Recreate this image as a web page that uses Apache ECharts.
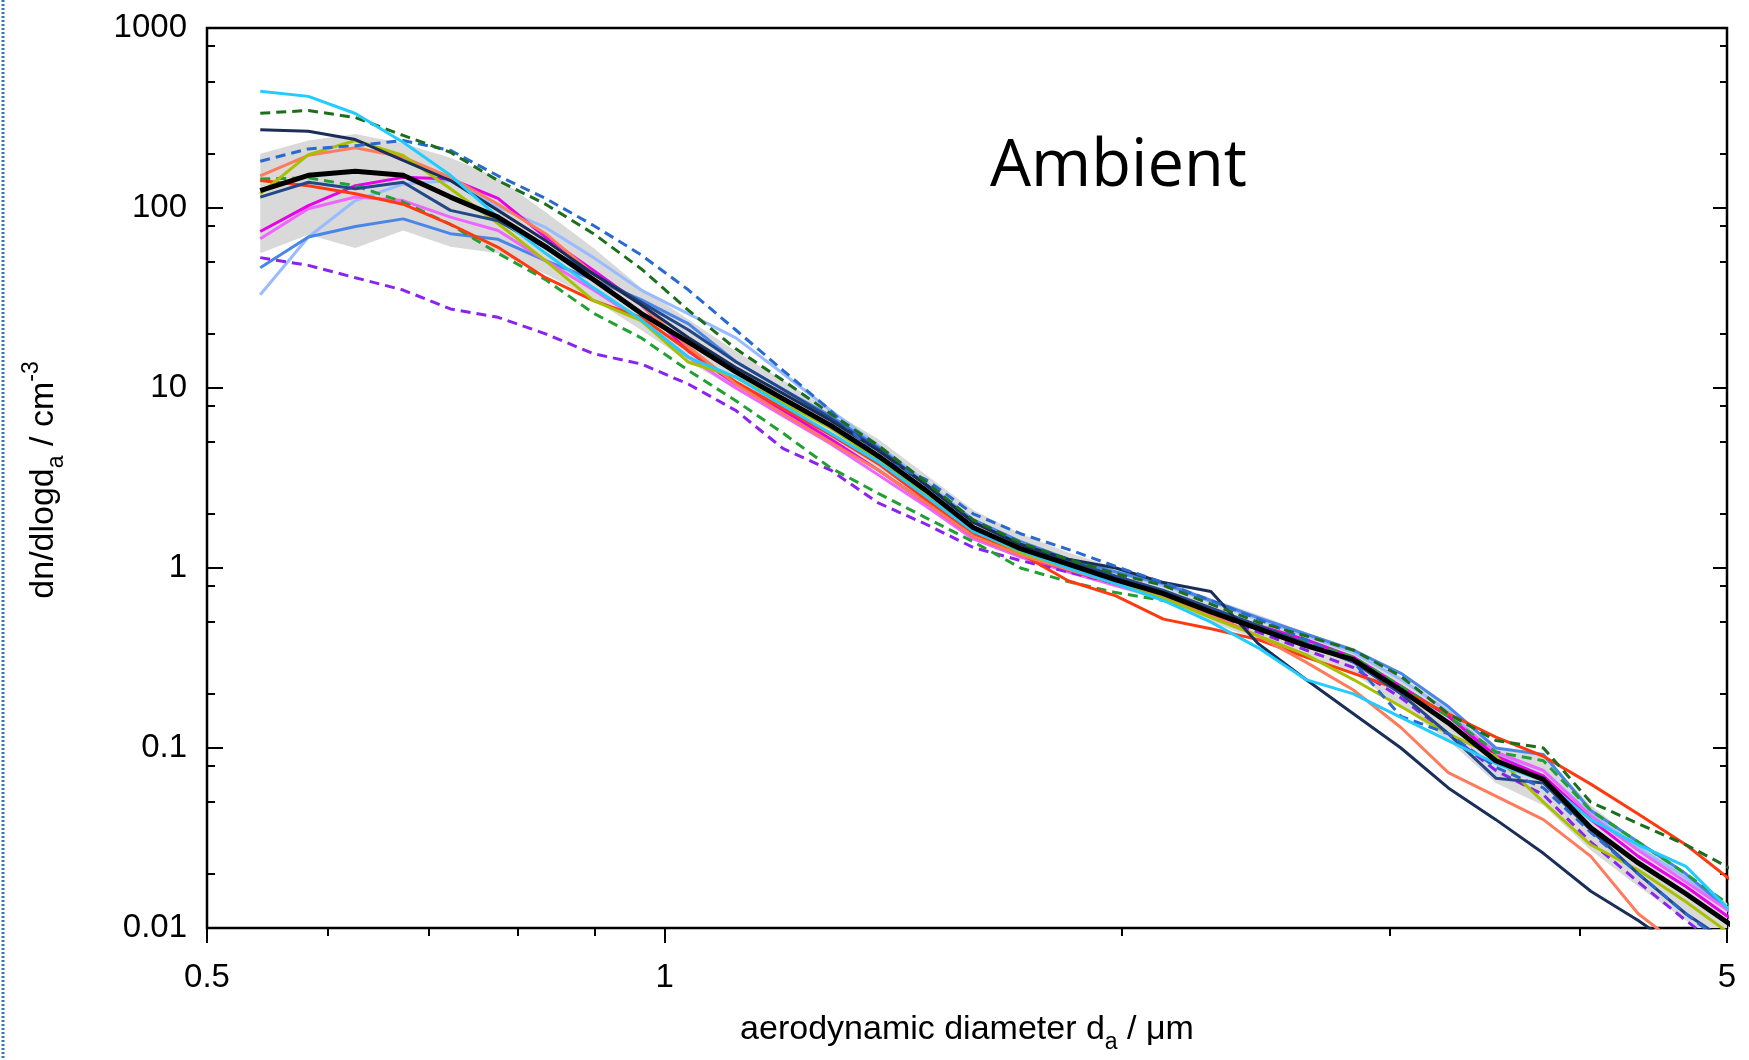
<!DOCTYPE html>
<html>
<head>
<meta charset="utf-8">
<script src="https://cdn.jsdelivr.net/npm/echarts@6/dist/echarts.min.js"></script>
<style>
  html, body { margin: 0; background: #fff; }
  #main { width: 1749px; height: 1060px; }
</style>
</head>
<body>
<div id="main"></div>
<script>
// APS channel midpoints, µm
const diameters = [0.542, 0.583, 0.626, 0.673, 0.723, 0.777, 0.835, 0.898, 0.965, 1.037, 1.114, 1.197, 1.286, 1.382, 1.486, 1.596,
  1.715, 1.843, 1.981, 2.129, 2.288, 2.458, 2.642, 2.839, 3.051, 3.278, 3.523, 3.786, 4.068, 4.371, 4.698, 5.048];

const xMajor = [0.5, 1, 5];
const xMinor = [0.6, 0.7, 0.8, 0.9, 2, 3, 4];
const yMajor = [0.01, 0.1, 1, 10, 100, 1000];
const yMinor = [0.02, 0.05, 0.08, 0.2, 0.5, 0.8, 2, 5, 8, 20, 50, 80, 200, 500, 800];

const bandLow = [56, 71, 60, 75, 61, 56, 43, 31, 21, 14, 9.8, 7.0, 5.0, 3.5, 2.3, 1.5, 1.15, 0.95, 0.78, 0.65, 0.5, 0.4, 0.32, 0.26, 0.17, 0.11, 0.064, 0.048, 0.027, 0.017, 0.011, 0.0075];
const bandHigh = [200, 237, 258, 228, 190, 147, 95, 60, 36, 24, 16, 11, 7.5, 5.2, 3.3, 2.1, 1.55, 1.22, 1.0, 0.85, 0.68, 0.55, 0.44, 0.36, 0.25, 0.17, 0.1, 0.092, 0.048, 0.03, 0.02, 0.013];

const mean = [125, 152, 160, 152, 115, 89, 61, 40, 26, 18, 12.3, 8.7, 6.2, 4.2, 2.7, 1.68, 1.28, 1.05, 0.86, 0.72, 0.57, 0.46, 0.37, 0.31, 0.21, 0.138, 0.085, 0.067, 0.036, 0.023, 0.0155, 0.0102];
const cyan = [445, 417, 335, 232, 152, 89, 56, 36, 24, 14.8, 11.5, 8.0, 5.6, 3.9, 2.5, 1.6, 1.25, 1.0, 0.82, 0.66, 0.5, 0.36, 0.24, 0.2, 0.148, 0.11, 0.082, 0.066, 0.04, 0.029, 0.022, 0.012];
const darkGreenDash = [336, 348, 318, 253, 204, 142, 105, 72, 46, 27, 16.5, 11, 7.2, 4.8, 3.0, 1.85, 1.38, 1.12, 0.93, 0.8, 0.63, 0.5, 0.42, 0.35, 0.25, 0.155, 0.11, 0.1, 0.05, 0.038, 0.029, 0.021];
const darkNavy = [272, 267, 240, 184, 142, 97, 66, 43, 29, 19, 13, 9.3, 6.6, 4.5, 2.9, 1.8, 1.35, 1.12, 1.0, 0.83, 0.74, 0.38, 0.24, 0.155, 0.1, 0.06, 0.04, 0.026, 0.016, 0.011, 0.0072, 0.005];
const blueDash = [182, 213, 222, 237, 209, 151, 113, 80, 55, 35, 21, 12.5, 7.5, 4.1, 3.1, 2.0, 1.55, 1.27, 1.02, 0.83, 0.66, 0.52, 0.4, 0.3, 0.15, 0.12, 0.078, 0.06, 0.034, 0.02, 0.012, 0.0075];
const salmon = [151, 196, 216, 192, 148, 105, 72, 43, 29, 16.9, 10.5, 7.2, 5.0, 3.5, 2.3, 1.5, 1.18, 0.98, 0.82, 0.7, 0.55, 0.42, 0.3, 0.21, 0.13, 0.073, 0.054, 0.04, 0.025, 0.012, 0.0075, 0.005];
const yellowGreen = [120, 198, 237, 196, 128, 82, 51, 30.6, 23.7, 13.9, 11.5, 8.3, 6.0, 4.0, 2.55, 1.62, 1.22, 1.0, 0.82, 0.68, 0.53, 0.42, 0.33, 0.24, 0.17, 0.12, 0.09, 0.05, 0.029, 0.021, 0.014, 0.009];
const red = [142, 133, 120, 105, 81, 60.5, 41, 30.6, 24.7, 16.1, 10.8, 7.7, 5.5, 3.8, 2.4, 1.55, 1.2, 0.85, 0.7, 0.52, 0.46, 0.4, 0.32, 0.26, 0.21, 0.155, 0.115, 0.09, 0.063, 0.043, 0.029, 0.018];
const navyBlue = [115, 139, 128, 139, 97, 85, 60, 43, 30, 21, 14, 9.8, 6.8, 4.6, 2.9, 1.8, 1.35, 1.1, 0.9, 0.75, 0.6, 0.48, 0.38, 0.3, 0.2, 0.12, 0.068, 0.064, 0.035, 0.02, 0.012, 0.008];
const greenDash = [145, 147, 133, 108, 81, 56, 40, 26, 19, 12.5, 8.5, 5.6, 3.6, 2.6, 1.9, 1.4, 1.0, 0.84, 0.73, 0.66, 0.56, 0.47, 0.39, 0.32, 0.22, 0.15, 0.095, 0.085, 0.045, 0.03, 0.02, 0.013];
const magenta = [74, 103, 133, 148, 145, 113, 69, 45, 29, 16, 10.5, 7.5, 5.2, 3.5, 2.3, 1.5, 1.18, 0.97, 0.82, 0.7, 0.58, 0.48, 0.4, 0.32, 0.22, 0.15, 0.09, 0.07, 0.04, 0.025, 0.017, 0.011];
const lightMagenta = [67.5, 99, 115, 110, 89, 75, 51, 35, 23.7, 14.8, 10.0, 7.0, 4.9, 3.3, 2.2, 1.45, 1.15, 0.95, 0.8, 0.68, 0.57, 0.47, 0.39, 0.31, 0.22, 0.15, 0.095, 0.075, 0.042, 0.027, 0.018, 0.012];
const medBlue = [46.5, 69, 79, 87, 72, 67, 51, 40, 31, 22.7, 14, 9.8, 7.0, 4.7, 2.9, 1.85, 1.4, 1.12, 0.95, 0.82, 0.66, 0.53, 0.43, 0.35, 0.26, 0.17, 0.1, 0.092, 0.045, 0.03, 0.02, 0.012];
const lightBlue = [33, 69, 110, 136, 142, 101, 78, 53, 35, 25.8, 19, 12, 7.5, 4.8, 3.0, 1.85, 1.4, 1.12, 0.95, 0.8, 0.65, 0.52, 0.42, 0.34, 0.24, 0.16, 0.092, 0.075, 0.043, 0.028, 0.019, 0.012];
const purpleDash = [53, 48, 41, 35, 27.5, 24.7, 20, 15.5, 13.6, 10.5, 7.5, 4.6, 3.5, 2.3, 1.75, 1.3, 1.1, 0.95, 0.82, 0.68, 0.55, 0.44, 0.35, 0.28, 0.19, 0.12, 0.075, 0.055, 0.03, 0.018, 0.011, 0.007];

const curves = [
  { name: "light blue", data: lightBlue, color: "#99BBFF" },
  { name: "medium blue", data: medBlue, color: "#4A86E8" },
  { name: "light magenta", data: lightMagenta, color: "#EE66FF" },
  { name: "magenta", data: magenta, color: "#E800E8" },
  { name: "purple", data: purpleDash, color: "#8A22F0", dashed: true },
  { name: "green", data: greenDash, color: "#22A033", dashed: true },
  { name: "red", data: red, color: "#FF3A10" },
  { name: "salmon", data: salmon, color: "#FF7B5C" },
  { name: "yellow green", data: yellowGreen, color: "#A8C000" },
  { name: "navy blue", data: navyBlue, color: "#23488A" },
  { name: "dark navy", data: darkNavy, color: "#1A2E5A" },
  { name: "blue dashed", data: blueDash, color: "#2A6AD0", dashed: true },
  { name: "dark green", data: darkGreenDash, color: "#1B6E1B", dashed: true },
  { name: "cyan", data: cyan, color: "#22CCFF" },
];

const pairs = (vals) => diameters.map((d, i) => [d, vals[i]]);
const fmt = (v) => String(+(+v).toPrecision(6));
const font = "Liberation Sans";

const series = [
  {
    // grey range band, drawn as one polygon through the axis scales
    name: "band", type: "custom", z: 1, silent: true, clip: true,
    data: [[1, 1]],
    renderItem: (params, api) => {
      const upper = diameters.map((d, i) => api.coord([d, bandHigh[i]]));
      const lower = diameters.map((d, i) => api.coord([d, bandLow[i]])).reverse();
      return { type: "polygon", shape: { points: upper.concat(lower) }, style: { fill: "#d9d9d9" } };
    },
  },
];
curves.forEach((c) => {
  series.push({
    name: c.name, type: "line", symbol: "none", z: 2,
    lineStyle: { color: c.color, width: 3, type: c.dashed ? [10, 6] : "solid" },
    data: pairs(c.data),
  });
});
series.push({
  name: "mean", type: "line", symbol: "none", z: 3,
  lineStyle: { color: "#000", width: 5 }, data: pairs(mean),
});

function xAxisOf(ticks, len, labels) {
  return {
    type: "log", logBase: 10, min: 0.5, max: 5, position: "bottom",
    axisLine: { show: false, onZero: false }, splitLine: { show: false },
    axisTick: { show: true, inside: false, length: len, customValues: ticks, lineStyle: { color: "#000", width: 2 } },
    axisLabel: labels
      ? { show: true, customValues: labels, formatter: fmt, fontSize: 33, color: "#000", fontFamily: font, margin: 33 }
      : { show: false },
  };
}
function yAxisOf(pos, ticks, len, labels) {
  return {
    type: "log", logBase: 10, min: 0.01, max: 1000, position: pos,
    axisLine: { show: false, onZero: false }, splitLine: { show: false },
    axisTick: { show: true, inside: true, length: len, customValues: ticks, lineStyle: { color: "#000", width: 2 } },
    axisLabel: labels
      ? { show: true, customValues: labels, formatter: fmt, fontSize: 33, color: "#000", fontFamily: font, margin: 20 }
      : { show: false },
  };
}

const chart = echarts.init(document.getElementById("main"));
chart.setOption({
  animation: false,
  grid: { left: 207, right: 22, top: 28, bottom: 132, show: true, borderColor: "#000", borderWidth: 2.5, backgroundColor: "transparent" },
  xAxis: [xAxisOf(xMajor, 15, xMajor), xAxisOf(xMinor, 8, null)],
  yAxis: [
    yAxisOf("left", yMajor, 16, yMajor),
    yAxisOf("left", yMinor, 8, null),
    yAxisOf("right", yMajor, 14, null),
    yAxisOf("right", yMinor, 7, null),
  ],
  series: series,
  graphic: [
    {
      type: "text", x: 990, y: 167,
      style: { text: "Ambient", font: "65px 'Open Sans'", fill: "#000", textAlign: "left", textVerticalAlign: "middle" },
    },
    {
      type: "text", x: 967, y: 1030,
      style: {
        text: "{m|aerodynamic diameter d}{s|a}{m| / μm}",
        textAlign: "center", textVerticalAlign: "middle",
        rich: {
          m: { fontSize: 34, fontFamily: font, fill: "#000", lineHeight: 48 },
          s: { fontSize: 23, fontFamily: font, fill: "#000", lineHeight: 48, verticalAlign: "bottom" },
        },
      },
    },
    {
      type: "text", x: 44, y: 480, rotation: Math.PI / 2,
      style: {
        text: "{m|dn/dlogd}{s|a}{m| / cm}{p|-3}",
        textAlign: "center", textVerticalAlign: "middle",
        rich: {
          m: { fontSize: 34, fontFamily: font, fill: "#000", lineHeight: 48 },
          s: { fontSize: 23, fontFamily: font, fill: "#000", lineHeight: 48, verticalAlign: "bottom" },
          p: { fontSize: 23, fontFamily: font, fill: "#000", lineHeight: 48, verticalAlign: "top" },
        },
      },
    },
    {
      type: "line", shape: { x1: 3, y1: 0, x2: 3, y2: 1060 },
      style: { stroke: "#3a74b8", lineWidth: 3, lineDash: [2, 2] },
    },
  ],
});
</script>
</body>
</html>
